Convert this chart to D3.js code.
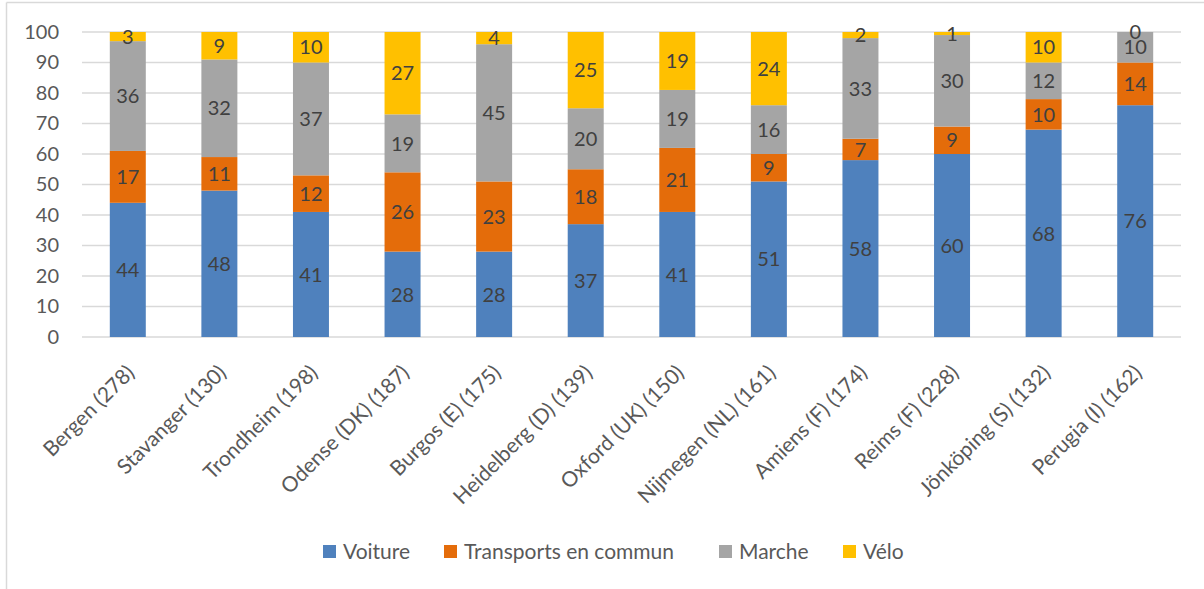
<!DOCTYPE html>
<html><head><meta charset="utf-8">
<script src="https://cdn.jsdelivr.net/npm/d3@7"></script>
<style>body{margin:0;background:#fff}svg{display:block}</style>
</head><body><svg id="c" width="1204" height="589"></svg>
<script>
const categories = ["Bergen (278)","Stavanger (130)","Trondheim (198)","Odense (DK) (187)","Burgos (E) (175)","Heidelberg (D) (139)","Oxford (UK) (150)","Nijmegen (NL) (161)","Amiens (F) (174)","Reims (F) (228)","Jönköping (S) (132)","Perugia (I) (162)"];
const seriesNames = ["Voiture","Transports en commun","Marche","Vélo"];
const voiture = [44,48,41,28,28,37,41,51,58,60,68,76];
const transports = [17,11,12,26,23,18,21,9,7,9,10,14];
const marche = [36,32,37,19,45,20,19,16,33,30,12,10];
const velo = [3,9,10,27,4,25,19,24,2,1,10,0];
const yTicks = [0,10,20,30,40,50,60,70,80,90,100];
const colors = ["#4f81bd","#e46c0a","#a5a5a5","#ffc000"];

const seriesVals = [voiture, transports, marche, velo];
const rows = categories.map((c,i)=>{const r={cat:c}; seriesNames.forEach((s,k)=>r[s]=seriesVals[k][i]); return r;});
const stacked = d3.stack().keys(seriesNames)(rows);

const svg = d3.select("#c");
const font = "Lato, 'Open Sans', sans-serif";
svg.append("line").attr("x1",6.5).attr("x2",6.5).attr("y1",2.5).attr("y2",589).attr("stroke","#d9d9d9").attr("stroke-width",1.5);
svg.append("line").attr("x1",6.5).attr("x2",1204).attr("y1",2.5).attr("y2",2.5).attr("stroke","#d9d9d9").attr("stroke-width",1.5);

const x = d3.scaleBand().domain(categories).range([82,1181]).paddingInner(0.607).paddingOuter(0.3035);
const y = d3.scaleLinear().domain([0,100]).range([337,32]);

const g = svg.append("g");
g.selectAll(".grid").data(yTicks).join("line")
 .attr("x1",82).attr("x2",1181).attr("y1",d=>y(d)).attr("y2",d=>y(d))
 .attr("stroke","#d9d9d9").attr("stroke-width",1.5);

const yAxis = g.append("g").attr("transform","translate(82,0)").call(d3.axisLeft(y).tickValues(yTicks).tickSize(0).tickPadding(23));
yAxis.select(".domain").remove();
yAxis.selectAll("text").attr("font-family",font).attr("font-size",20).attr("fill","#595959");

const layers = g.selectAll(".layer").data(stacked).join("g").attr("fill",(d,i)=>colors[i]);
layers.selectAll("rect").data(d=>d).join("rect")
 .attr("x",d=>x(d.data.cat)).attr("width",x.bandwidth())
 .attr("y",d=>y(d[1])).attr("height",d=>y(d[0])-y(d[1]));

layers.each(function(s,k){
  d3.select(this).selectAll("text").data(s).join("text")
   .attr("x",d=>x(d.data.cat)+x.bandwidth()/2)
   .attr("y",d=>(y(d[0])+y(d[1]))/2)
   .attr("dy","0.36em").attr("text-anchor","middle")
   .attr("font-family",font).attr("font-size",20).attr("fill","#404040")
   .text(d=>d.data[s.key]);
});

const xAxis = g.append("g").attr("transform","translate(0,337)").call(d3.axisBottom(x).tickSize(0).tickPadding(0));
xAxis.select(".domain").remove();
xAxis.selectAll("text")
 .attr("font-family",font).attr("font-size",21).attr("fill","#595959")
 .attr("text-anchor","end").attr("dy",0).attr("y",0)
 .attr("transform",`translate(8,37) rotate(-45)`);

const legendX = [323,444,719,843];
const lg = svg.append("g").selectAll("g").data(seriesNames).join("g")
 .attr("transform",(d,i)=>`translate(${legendX[i]},545)`);
lg.append("rect").attr("width",13).attr("height",13).attr("fill",(d,i)=>colors[i]);
lg.append("text").attr("x",20).attr("y",14).attr("font-family",font).attr("font-size",21).attr("fill","#595959").text(d=>d);
</script></body></html>
